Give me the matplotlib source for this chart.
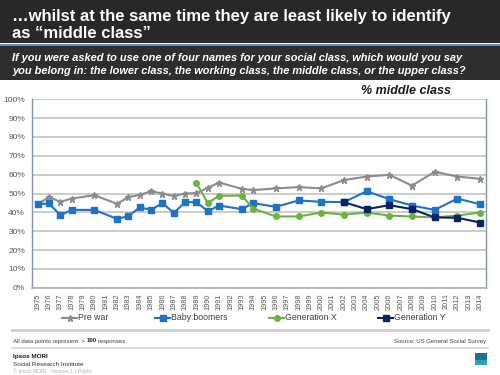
import matplotlib
matplotlib.use("Agg")
import matplotlib.pyplot as plt
from matplotlib.patches import Rectangle
from matplotlib.lines import Line2D

plt.rcParams['font.family'] = ['Liberation Sans', 'DejaVu Sans']

years = list(range(1975, 2015))

prewar_years = [1975, 1976, 1977, 1978, 1980, 1982, 1983, 1984, 1985, 1986, 1987, 1988, 1989,
                1990, 1991, 1993, 1994, 1996, 1998, 2000, 2002, 2004, 2006, 2008, 2010, 2012, 2014]
prewar = [44.3, 48.1, 45.6, 47.3, 49.1, 44.5, 48.1, 49.3, 51.2, 50.0, 48.6, 50.0, 50.2,
          53.0, 55.8, 52.5, 51.8, 52.7, 53.4, 52.7, 57.1, 59.0, 59.9, 54.2, 61.5, 59.0, 57.8]

boomer_years = prewar_years
boomers = [44.3, 44.7, 38.5, 41.3, 41.3, 36.5, 38.0, 42.6, 41.3, 44.9, 39.7, 45.4, 45.4,
           40.6, 43.6, 41.7, 44.9, 42.9, 46.3, 45.6, 45.4, 51.2, 47.0, 43.6, 41.3, 47.3, 44.3]

genx_years = [1989, 1990, 1991, 1993, 1994, 1996, 1998, 2000, 2002, 2004, 2006, 2008, 2010, 2012, 2014]
genx = [55.5, 44.9, 48.8, 48.9, 42.0, 37.8, 37.8, 39.9, 38.8, 39.9, 38.3, 37.8, 37.3, 38.3, 39.9]

geny_years = [2002, 2004, 2006, 2008, 2010, 2012, 2014]
geny = [45.4, 41.7, 43.8, 41.7, 37.3, 37.1, 34.6]

series_labels = ["Pre war", "Baby boomers", "Generation X", "Generation Y"]
colors = ['#8C8C8C', '#1E73C8', '#6DB33F', '#0B2265']
markers = ['*', 's', 'o', 's']
msizes = [4.8, 4.5, 4, 4.5]

W, H = 500, 375
fig = plt.figure(figsize=(5, 3.75), dpi=100)
fig.patch.set_facecolor('white')

def fx(x): return x / W
def fy(y): return 1 - y / H

# header bands
fig.patches.append(Rectangle((0, fy(43)), 1, 43 / H, transform=fig.transFigure,
                             facecolor='#282828', edgecolor='none', zorder=0))
fig.patches.append(Rectangle((0, fy(45.5)), 1, 2 / H, transform=fig.transFigure,
                             facecolor='#5B8DB8', edgecolor='none', zorder=0))
fig.patches.append(Rectangle((0, fy(80)), 1, 34.5 / H, transform=fig.transFigure,
                             facecolor='#2E2E2E', edgecolor='none', zorder=0))

fig.text(fx(12), fy(21), "…whilst at the same time they are least likely to identify",
         color='white', fontsize=12, fontweight='bold', va='baseline', ha='left')
fig.text(fx(12), fy(38), "as “middle class”",
         color='white', fontsize=12, fontweight='bold', va='baseline', ha='left')
fig.text(fx(12), fy(61), "If you were asked to use one of four names for your social class, which would you say",
         color='white', fontsize=7.9, fontweight='bold', style='italic', va='baseline', ha='left')
fig.text(fx(12), fy(74), "you belong in: the lower class, the working class, the middle class, or the upper class?",
         color='white', fontsize=7.9, fontweight='bold', style='italic', va='baseline', ha='left')

fig.text(fx(451), fy(94), "% middle class", color='#1A1A1A', fontsize=9, fontweight='bold',
         style='italic', va='baseline', ha='right')

# axes
ax = fig.add_axes([fx(32), fy(287.7), (485.7 - 32) / W, (287.7 - 99.3) / H])
idx = {y: i for i, y in enumerate(years)}

def pos(ys): return [idx[y] for y in ys]

all_series = [(prewar_years, prewar), (boomer_years, boomers), (genx_years, genx), (geny_years, geny)]
for k, (xs, vs) in enumerate(all_series):
    ax.plot(pos(xs), vs, color=colors[k], lw=1.5, marker=markers[k], ms=msizes[k], zorder=3 + k)

ax.set_xlim(-0.5, len(years) - 0.5)
ax.set_ylim(0, 100)
ax.set_yticks(range(0, 101, 10))
ax.set_yticklabels([f"{v}%" for v in range(0, 101, 10)])
ax.set_xticks(range(len(years)))
ax.set_xticklabels([str(y) for y in years], rotation=90)
ax.tick_params(axis='y', length=0, labelsize=6, colors='#595959', pad=5)
ax.tick_params(axis='x', length=0, labelsize=5.3, colors='#595959', pad=4)
ax.grid(axis='y', color='#C8C8C8', lw=1.3)
ax.set_axisbelow(True)
for s in ['left', 'right']:
    ax.spines[s].set_color('#7F93B8')
    ax.spines[s].set_linewidth(1.0)
ax.spines['top'].set_visible(False)
ax.spines['bottom'].set_color('#B0B0B0')
ax.spines['bottom'].set_linewidth(1.2)

# legend (manual placement)
leg_x = [62, 155, 269, 378]
leg_y = 318
for k, lab in enumerate(series_labels):
    x0 = leg_x[k]
    fig.add_artist(Line2D([fx(x0), fx(x0 + 15)], [fy(leg_y), fy(leg_y)], color=colors[k], lw=1.5))
    fig.add_artist(Line2D([fx(x0 + 7.5)], [fy(leg_y)], color=colors[k], marker=markers[k],
                          ms=msizes[k], lw=0))
    fig.text(fx(x0 + 16), fy(leg_y), lab, fontsize=6.3, color='#404040', va='center', ha='left')

# separators
fig.add_artist(Line2D([fx(12), fx(488)], [fy(330), fy(330)], color='#D0D0D0', lw=2))
fig.add_artist(Line2D([fx(12), fx(488)], [fy(348), fy(348)], color='#D8D8D8', lw=1.2))

t1 = fig.text(fx(13), fy(342.5), "All data points represent  > ", fontsize=4.3, color='#404040',
              va='baseline')
t2 = fig.text(0, 0, "100", fontsize=4.3, color='#202020', fontweight='bold', va='baseline')
t3 = fig.text(0, 0, " responses", fontsize=4.3, color='#404040', va='baseline')
fig.canvas.draw()
r = fig.canvas.get_renderer()
bb1 = t1.get_window_extent(r)
t2.set_position((bb1.x1 / fig.bbox.width, fy(342.5)))
bb2 = t2.get_window_extent(r)
t3.set_position((bb2.x1 / fig.bbox.width, fy(342.5)))

fig.text(fx(486), fy(342.5), "Source: US General Social Survey", fontsize=4.3, color='#404040',
         va='baseline', ha='right')

fig.text(fx(13), fy(358), "Ipsos MORI", fontsize=4.6, color='#1A1A1A', fontweight='bold', va='baseline')
fig.text(fx(13), fy(365.5), "Social Research Institute", fontsize=4.6, color='#333333', va='baseline')
fig.text(fx(13), fy(372.5), "© Ipsos MORI   Version 1 | Public", fontsize=3.8, color='#B0B0B0', va='baseline')

# logo
fig.patches.append(Rectangle((fx(475), fy(365)), 12 / W, 12 / H, transform=fig.transFigure,
                             facecolor='#1F6E9E', edgecolor='none'))
fig.patches.append(Rectangle((fx(475), fy(365)), 12 / W, 5 / H, transform=fig.transFigure,
                             facecolor='#2BA3A8', edgecolor='none'))

fig.savefig('out.png', dpi=100)
